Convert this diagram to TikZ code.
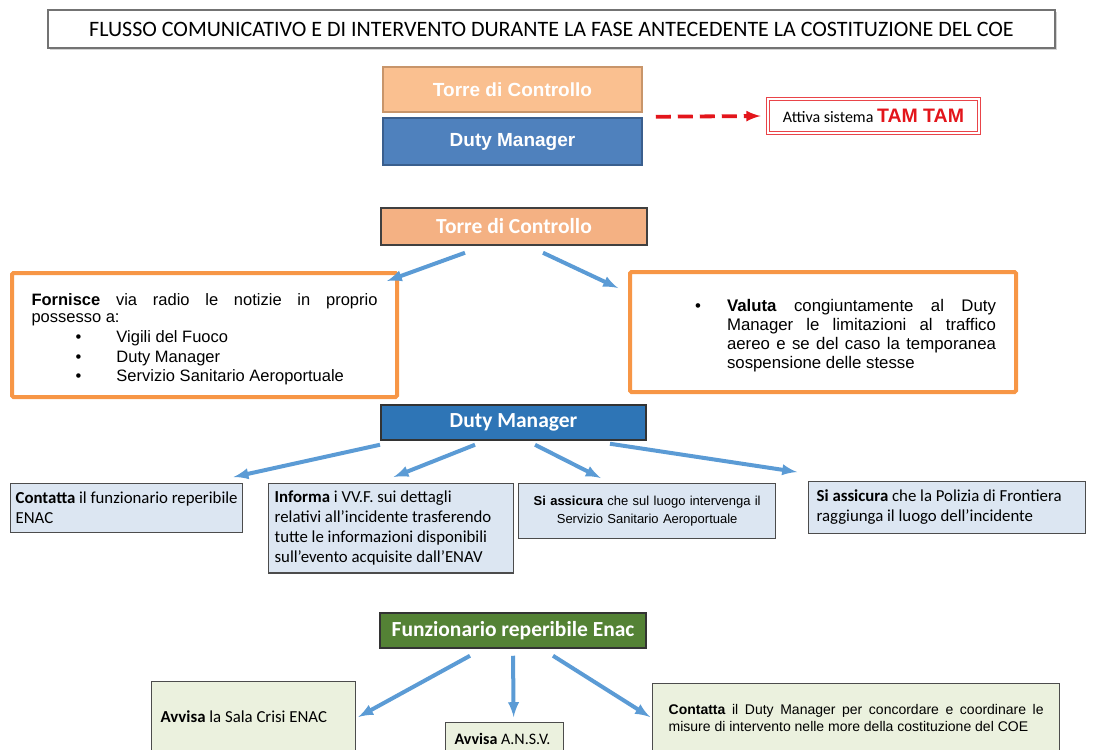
\documentclass[tikz,border=0pt]{standalone}
\usepackage{fontspec}
\setmainfont{Carlito}
\newfontfamily\arialfont{Liberation Sans}
\usetikzlibrary{shadows}

\definecolor{torreLight}{HTML}{FAC090}
\definecolor{torreLine}{HTML}{C8956A}
\definecolor{torreFill}{HTML}{F4B183}
\definecolor{dmLight}{HTML}{4F81BD}
\definecolor{dmLine}{HTML}{3A5F8E}
\definecolor{dmFill}{HTML}{2E75B6}
\definecolor{funzFill}{HTML}{548235}
\definecolor{orangeLine}{HTML}{F79646}
\definecolor{blueFill}{HTML}{DCE6F2}
\definecolor{greenFill}{HTML}{EBF1DE}
\definecolor{arrowBlue}{HTML}{5B9BD5}
\definecolor{alarmRed}{HTML}{E3151B}

\tikzset{
  titlebox/.style={draw=black!55, line width=2pt, fill=white, minimum width=1007pt, minimum height=38pt,
    drop shadow={shadow xshift=2pt, shadow yshift=-2pt, opacity=0.35}, font=\fontsize{22}{26}\selectfont},
  topbox/.style={draw=torreLine, line width=1.5pt, fill=torreLight, text=white, minimum width=259pt,
    font=\arialfont\bfseries\fontsize{19}{22}\selectfont},
  headbox/.style={draw=black!75, line width=1.5pt, fill=torreFill, text=white, minimum width=266pt,
    minimum height=37pt, font=\bfseries\fontsize{21.5}{24}\selectfont},
  orangebox/.style={draw=orangeLine, line width=4pt, fill=white, rounded corners=1.5pt, align=justify,
    font=\arialfont\fontsize{16.5}{17}\selectfont},
  bluebox/.style={draw=black!70, line width=1.3pt, fill=blueFill, align=flush left, inner xsep=5pt, inner ysep=8.5pt,
    font=\fontsize{16.8}{20}\selectfont},
  greenbox/.style={bluebox, fill=greenFill},
  flow/.style={-latex, draw=arrowBlue, line width=4pt},
  alarm/.style={-latex, draw=alarmRed, line width=3.8pt, dash pattern=on 15pt off 7pt}
}

\begin{document}
\begin{tikzpicture}[x=1pt, y=-1pt]
  \useasboundingbox (0,0) rectangle (1099,749);
  \clip (0,0) rectangle (1099,749);

  \node[titlebox] (titolo) at (551.5,29) {FLUSSO COMUNICATIVO E DI INTERVENTO DURANTE LA FASE ANTECEDENTE LA COSTITUZIONE DEL COE};

  % attivazione
  \node[topbox, minimum height=45pt] (torreA) at (512.5,89.5) {Torre di Controllo};
  \node[topbox, draw=dmLine, fill=dmLight, minimum height=47pt] (dmA) at (512.5,141.5) {Duty Manager};
  \node[draw=alarmRed!80, line width=0.8pt, double=white, double distance=1.6pt, fill=white,
    minimum width=211pt, minimum height=34pt, font=\fontsize{16}{18}\selectfont] (tamtam) at (873.5,116)
    {Attiva sistema \textcolor{alarmRed}{\arialfont\bfseries\fontsize{19.5}{20}\selectfont TAM TAM}};
  \draw[alarm] ([xshift=13pt,yshift=-4pt]torreA.south east) -- ([xshift=-7pt]tamtam.west);

  % torre di controllo
  \node[headbox] (torreB) at (514,226.5) {Torre di Controllo};
  \node[orangebox, text width=346pt, inner xsep=19.5pt, minimum height=124pt] (fornisce) at (204.5,335)
    {\rule{0pt}{21pt}\textbf{Fornisce} via radio le notizie in proprio\linebreak possesso a:\\[3pt]
     \hspace*{44pt}\makebox[41pt][l]{\textbullet}Vigili del Fuoco\\[2.5pt]
     \hspace*{44pt}\makebox[41pt][l]{\textbullet}Duty Manager\\[2.5pt]
     \hspace*{44pt}\makebox[41pt][l]{\textbullet}Servizio Sanitario Aeroportuale};
  \node[orangebox, text width=346pt, inner xsep=20pt, minimum height=120pt, font=\arialfont\fontsize{16.8}{19}\selectfont] (valuta) at (823,332)
    {\noindent\rule{0pt}{20pt}\hspace*{45pt}\makebox[32pt][l]{\textbullet}\parbox[t]{269pt}{\spaceskip=0pt\textbf{Valuta} congiuntamente al Duty\linebreak
     Manager le limitazioni al traffico\linebreak aereo e se del caso la temporanea\linebreak sospensione delle stesse}};
  \draw[flow] ([xshift=-49pt,yshift=-7pt]torreB.south) -- ([xshift=-12pt,yshift=-10pt]fornisce.north east);
  \draw[flow] ([xshift=29pt,yshift=-7pt]torreB.south) -- ([xshift=-10pt,yshift=-18pt]valuta.north west);

  % duty manager
  \node[headbox, fill=dmFill, draw=black!80, minimum width=265pt, minimum height=35pt] (dmB) at (513.5,422.5) {Duty Manager};
  \node[bluebox, text width=222pt, anchor=north west] (contatta) at (10,483)
    {\textbf{Contatta} il funzionario reperibile\\ENAC};
  \node[bluebox, text width=233pt, inner xsep=6pt, inner ysep=7.5pt, anchor=north west] (informa) at (268,483)
    {\textbf{Informa} i VV.F. sui dettagli\\relativi all'incidente trasferendo\\tutte le informazioni disponibili\\sull'evento acquisite dall'ENAV};
  \node[bluebox, text width=249pt, align=center, inner xsep=4pt, inner ysep=12.5pt, anchor=north west,
    font=\arialfont\fontsize{13}{18}\selectfont] (assicuraA) at (518,483)
    {\textbf{Si assicura} che sul luogo intervenga il\\Servizio Sanitario Aeroportuale};
  \node[bluebox, text width=261pt, inner xsep=8pt, anchor=north west] (assicuraB) at (808,481)
    {\textbf{Si assicura} che la Polizia di Frontiera\\raggiunga il luogo dell'incidente};
  \draw[flow] ([xshift=-133.5pt,yshift=-4pt]dmB.south) -- ([xshift=107pt,yshift=6pt]contatta.north);
  \draw[flow] ([xshift=-38.5pt,yshift=-4pt]dmB.south) -- ([xshift=2.5pt,yshift=6pt]informa.north);
  \draw[flow] ([xshift=21.5pt,yshift=-4pt]dmB.south) -- ([xshift=-46.5pt,yshift=5pt]assicuraA.north);
  \draw[flow] ([xshift=96.5pt,yshift=-3pt]dmB.south) -- ([xshift=-11pt,yshift=9pt]assicuraB.north west);

  % funzionario ENAC
  \node[headbox, fill=funzFill, draw=black!80, minimum height=35pt] (funz) at (513,630.5) {Funzionario reperibile Enac};
  \node[greenbox, text width=186pt, inner xsep=9pt, inner ysep=29pt, anchor=north west] (sala) at (151,681)
    {\textbf{Avvisa} la Sala Crisi ENAC};
  \node[greenbox, text width=112pt, inner xsep=3pt, inner ysep=11pt, anchor=north west, font=\fontsize{16}{20}\selectfont] (ansv) at (445,722)
    {\hspace*{6pt}\textbf{Avvisa} A.N.S.V.};
  \node[greenbox, text width=375pt, inner xsep=16pt, inner ysep=21pt, anchor=north west, align=justify,
    font=\arialfont\fontsize{14}{17}\selectfont] (contattaDM) at (652,683)
    {\textbf{Contatta} il Duty Manager per concordare e coordinare le\linebreak misure di intervento nelle more della costituzione del COE};
  \draw[flow] ([xshift=-43pt,yshift=-7pt]funz.south) -- ([xshift=2pt,yshift=-36pt]sala.north east);
  \draw[flow] ([yshift=-7pt]funz.south) -- ([xshift=9pt,yshift=5pt]ansv.north);
  \draw[flow] ([xshift=40pt,yshift=-7pt]funz.south) -- ([xshift=-2pt,yshift=-34pt]contattaDM.north west);
\end{tikzpicture}
\end{document}
